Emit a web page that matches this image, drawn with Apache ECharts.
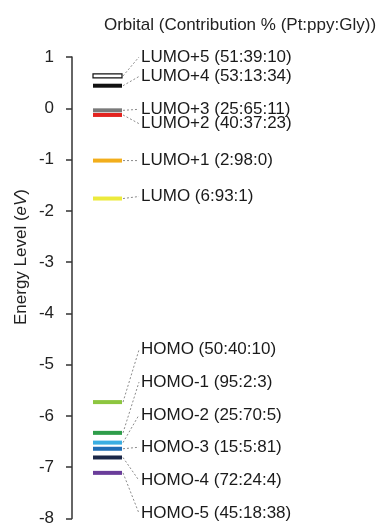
<!DOCTYPE html>
<html>
<head>
<meta charset="utf-8">
<script src="https://cdn.jsdelivr.net/npm/echarts@6/dist/echarts.min.js"></script>
<style>
  html, body { margin: 0; padding: 0; background: #fff; }
  #chart { width: 381px; height: 527px; }
</style>
</head>
<body>
<div id="chart"></div>
<script>
// orbital names, energies (eV) and where each label sits on the energy scale
const orbitals = ['LUMO+5', 'LUMO+4', 'LUMO+3', 'LUMO+2', 'LUMO+1', 'LUMO',
  'HOMO', 'HOMO-1', 'HOMO-2', 'HOMO-3', 'HOMO-4', 'HOMO-5'];
const contributions = ['51:39:10', '53:13:34', '25:65:11', '40:37:23', '2:98:0', '6:93:1',
  '50:40:10', '95:2:3', '25:70:5', '15:5:81', '72:24:4', '45:18:38'];
const energies = [0.63, 0.44, -0.04, -0.13, -1.02, -1.76,
  -5.73, -6.33, -6.52, -6.64, -6.81, -7.11];
const labelLevels = [1.0, 0.62, -0.02, -0.3, -1.02, -1.72,
  -4.71, -5.34, -5.98, -6.61, -7.26, -7.9];
const colors = ['#ffffff', '#111111', '#7a7a7a', '#e3231f', '#f2ae1c', '#ecea3c',
  '#8dc63f', '#2e9d4a', '#3aaee2', '#1f6db5', '#1b2747', '#6a3d9a'];
const yTicks = [1, 0, -1, -2, -3, -4, -5, -6, -7, -8];

const FONT = 'Liberation Sans';
const FS = 17;
const chart = echarts.init(document.getElementById('chart'));

const data = energies.map((e, i) => [e, labelLevels[i]]);

chart.setOption({
  animation: false,
  grid: { left: 72, right: 0, top: 57, bottom: 6 },
  xAxis: { type: 'value', min: 0, max: 100, show: false },
  yAxis: {
    type: 'value',
    min: yTicks[yTicks.length - 1],
    max: yTicks[0],
    interval: 1,
    axisLine: { show: true, lineStyle: { color: '#333', width: 1.5 } },
    axisTick: { show: true, length: 6, lineStyle: { color: '#333', width: 1.5 } },
    axisLabel: { margin: 18, color: '#222', fontSize: FS, fontFamily: FONT },
    splitLine: { show: false }
  },
  graphic: [
    {
      type: 'text', x: 240, y: 25,
      style: {
        text: 'Orbital (Contribution % (Pt:ppy:Gly))',
        fill: '#222', font: FS + 'px "' + FONT + '"',
        textAlign: 'center', textVerticalAlign: 'middle'
      }
    },
    {
      type: 'text', x: 21, y: 257, rotation: Math.PI / 2,
      style: {
        text: '{n|Energy Level (}{i|eV}{n|)}',
        textAlign: 'center', textVerticalAlign: 'middle',
        rich: {
          n: { fontSize: FS, fontFamily: FONT, fill: '#222' },
          i: { fontSize: FS, fontFamily: FONT, fontStyle: 'italic', fill: '#222' }
        }
      }
    }
  ],
  series: [{
    type: 'custom',
    data: data,
    renderItem: function (params, api) {
      const i = params.dataIndex;
      const p = api.coord([0, api.value(0)]);
      const q = api.coord([0, api.value(1)]);
      const x0 = p[0] + 21, x1 = p[0] + 50, tx = p[0] + 69;
      const hollow = i === 0;
      return {
        type: 'group',
        children: [
          {
            type: 'rect',
            shape: { x: x0, y: p[1] - 2, width: x1 - x0, height: 4 },
            style: hollow
              ? { fill: '#fff', stroke: '#111', lineWidth: 1.2 }
              : { fill: colors[i] }
          },
          {
            type: 'line',
            shape: { x1: x1 + 1, y1: p[1], x2: tx - 2, y2: q[1] },
            style: { stroke: '#8a8a8a', lineWidth: 1, lineDash: [2, 2] }
          },
          {
            type: 'text', x: tx, y: q[1],
            style: {
              text: orbitals[i] + ' (' + contributions[i] + ')',
              fill: '#1a1a1a', font: FS + 'px "' + FONT + '"',
              textAlign: 'left', textVerticalAlign: 'middle'
            }
          }
        ]
      };
    }
  }]
});
</script>
</body>
</html>
